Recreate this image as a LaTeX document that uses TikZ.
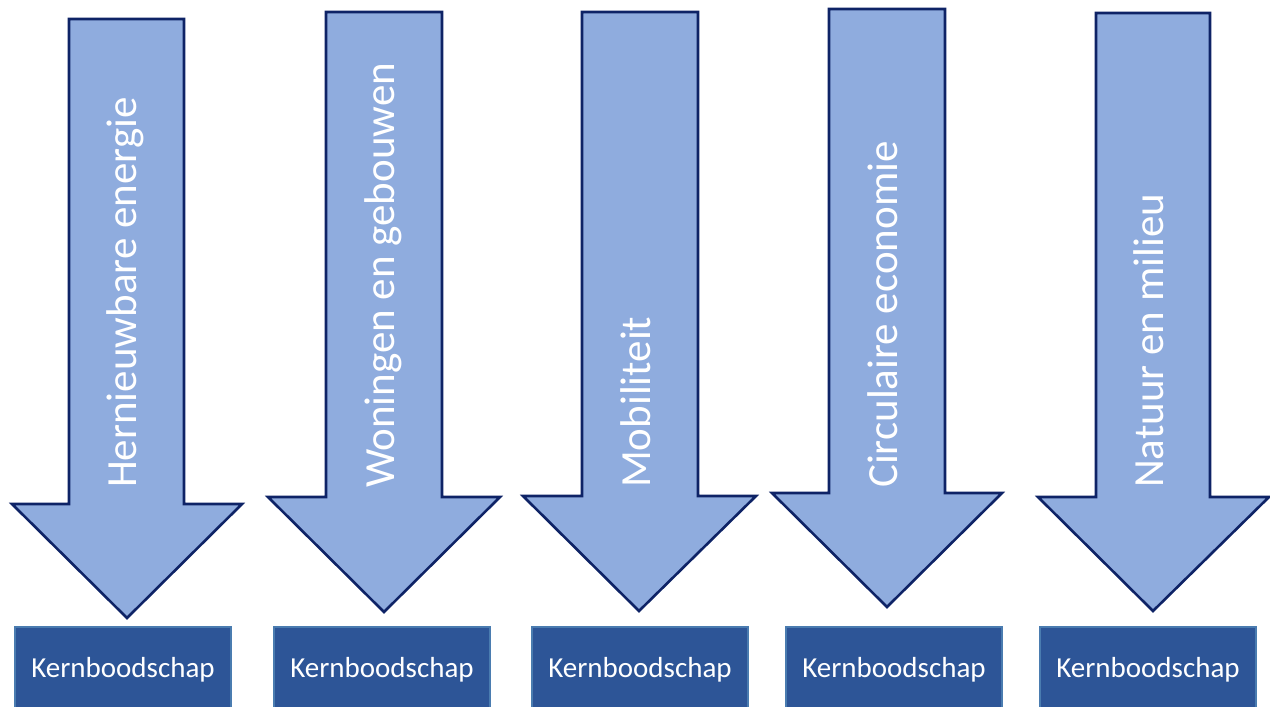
\documentclass[tikz,border=0pt]{standalone}
\usepackage{fontspec}
\setmainfont{Carlito}
\definecolor{arrfill}{HTML}{8FACDE}
\definecolor{arrline}{HTML}{0E2366}
\definecolor{boxfill}{HTML}{2D5597}
\definecolor{boxline}{HTML}{4A7CB0}
\begin{document}
\begin{tikzpicture}[x=1pt,y=-1pt,
  arrowshape/.style={fill=arrfill,draw=arrline,line width=2.6pt,line join=miter},
  arrowtext/.style={rotate=90,anchor=base west,text=white,font=\fontsize{43}{50}\selectfont,inner sep=0pt},
  kbox/.style={fill=boxfill,draw=boxline,line width=1.6pt,text=white,
    minimum width=216pt,minimum height=94pt,anchor=north,inner sep=0pt,
    font=\fontsize{29}{34}\selectfont,text height=0.75em,text depth=0.05em}]
\useasboundingbox (0,0) rectangle (1270,707);
% arrows
\draw[arrowshape] (69,19) -- (184,19) -- (184,504) -- (242,504) -- (127,618) -- (12,504) -- (69,504) -- cycle;
\draw[arrowshape] (326,12) -- (442,12) -- (442,497) -- (500,497) -- (384,612) -- (268,497) -- (326,497) -- cycle;
\draw[arrowshape] (582,12) -- (698,12) -- (698,496) -- (756,496) -- (639,611) -- (523,496) -- (582,496) -- cycle;
\draw[arrowshape] (829,9) -- (945,9) -- (945,493) -- (1002,493) -- (887,607) -- (772,493) -- (829,493) -- cycle;
\draw[arrowshape] (1096,13) -- (1210,13) -- (1210,497) -- (1269,497) -- (1153,611) -- (1038,497) -- (1096,497) -- cycle;
% texts
\node[arrowtext] (t1) at (136,488) {Hernieuwbare energie};
\node[arrowtext] (t2) at (394,488) {Woningen en gebouwen};
\node[arrowtext] (t3) at (650,488) {Mobiliteit};
\node[arrowtext] (t4) at (897,488) {Circulaire economie};
\node[arrowtext] (t5) at (1163,488) {Natuur en milieu};
% boxes
\node[kbox] (k1) at (123,626) {Kernboodschap};
\node[kbox] (k2) at (382,626) {Kernboodschap};
\node[kbox] (k3) at (640,626) {Kernboodschap};
\node[kbox] (k4) at (894,626) {Kernboodschap};
\node[kbox] (k5) at (1148,626) {Kernboodschap};
\end{tikzpicture}
\end{document}
